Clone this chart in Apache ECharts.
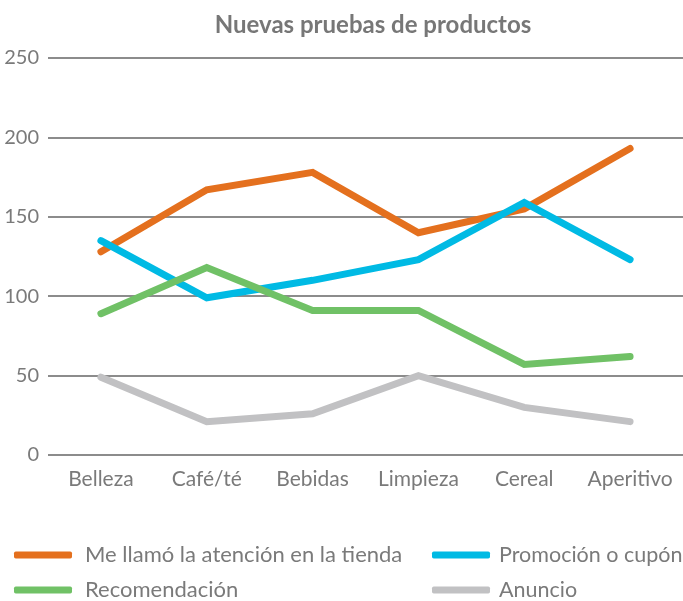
<!DOCTYPE html>
<html><head><meta charset="utf-8">
<script src="https://cdn.jsdelivr.net/npm/echarts@6/dist/echarts.min.js"></script>
<style>html,body{margin:0;padding:0;background:#fff}#c{width:683px;height:601px}</style>
</head><body><div id="c"></div>
<script>
const categories = ['Belleza','Café/té','Bebidas','Limpieza','Cereal','Aperitivo'];
const tienda = [128,167,178,140,155,193];
const promocion = [135,99,110,123,159,123];
const recomendacion = [89,118,91,91,57,62];
const anuncio = [49,21,26,50,30,21];
const seriesNames = ['Me llamó la atención en la tienda','Promoción o cupón','Recomendación','Anuncio'];

const FONT = 'Lato';
const TXT = '#7a7a7a';
const mk = (name, data, color) => ({
  name, type:'line', data, symbol:'none', smooth:false,
  lineStyle:{width:7, color, cap:'round', join:'miter'}, itemStyle:{color}
});
const leg = (name, left, top, pad, fs) => ({
  left, top, padding:0, itemWidth:58, itemHeight:7, icon:'roundRect', itemGap:0,
  data:[name], textStyle:{color:TXT, fontFamily:FONT, fontSize:fs, padding:[0,0,0,pad], lineHeight:24}
});
const chart = echarts.init(document.getElementById('c'), null, {renderer:'canvas'});
chart.setOption({
  animation:false,
  title:{text:'Nuevas pruebas de productos', left:368, textAlign:'center', top:8,
    textStyle:{fontFamily:FONT, fontSize:24, fontWeight:'bold', color:'#777'}},
  grid:{left:48, right:0, top:58, bottom:146},
  xAxis:{type:'category', data:categories, boundaryGap:true,
    axisLine:{show:false}, axisTick:{show:false},
    axisLabel:{color:TXT, fontFamily:FONT, fontSize:21, margin:14, interval:0, hideOverlap:false}},
  yAxis:{type:'value', min:0, max:250, interval:50,
    axisLine:{show:false}, axisTick:{show:false},
    splitLine:{lineStyle:{color:'#8c8c8c', width:2}},
    axisLabel:{color:TXT, fontFamily:FONT, fontSize:20, margin:9}},
  legend:[
    leg(seriesNames[0], 14, 543, 8, 22),
    leg(seriesNames[1], 432, 543, 4, 21.5),
    leg(seriesNames[2], 14, 578, 8, 22),
    leg(seriesNames[3], 432, 578, 4, 21.5)
  ],
  series:[
    mk(seriesNames[0], tienda, '#E4701E'),
    mk(seriesNames[1], promocion, '#00BAE4'),
    mk(seriesNames[2], recomendacion, '#70C166'),
    mk(seriesNames[3], anuncio, '#C1C1C3')
  ]
});
</script></body></html>
